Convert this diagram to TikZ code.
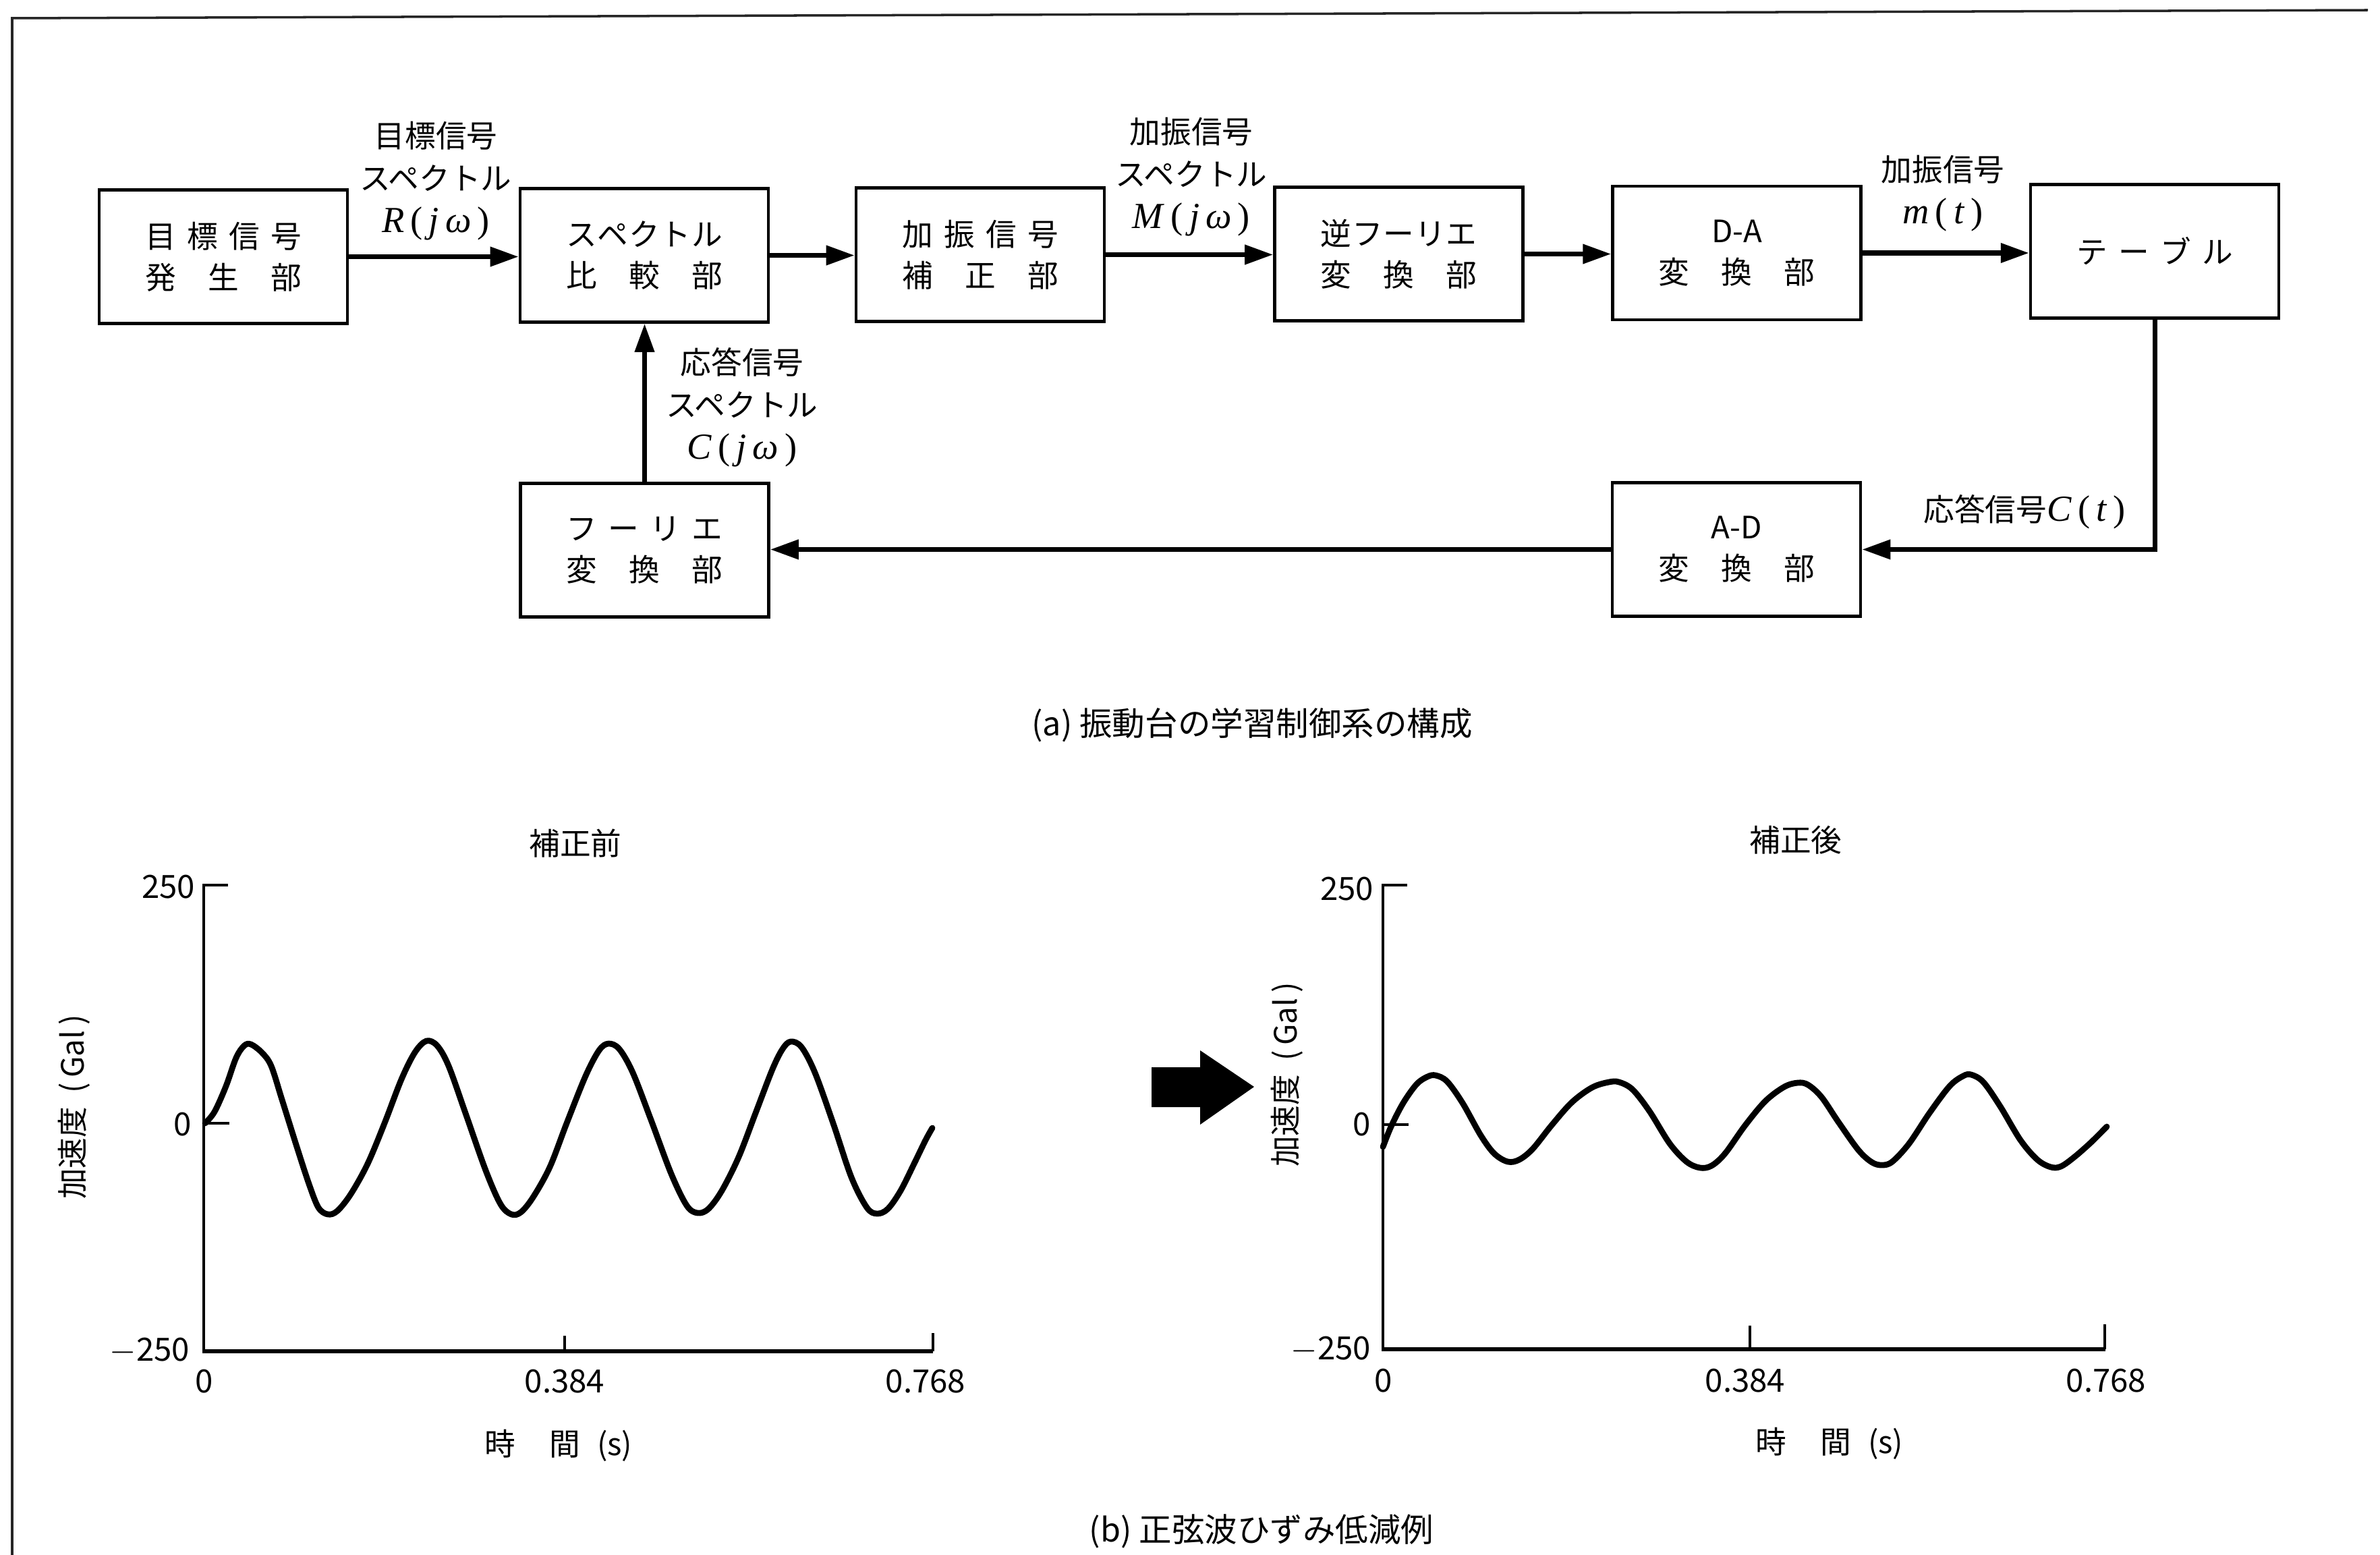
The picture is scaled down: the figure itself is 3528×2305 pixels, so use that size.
\documentclass[tikz,border=0pt]{standalone}
\usepackage{fontspec}
\setmainfont{Noto Sans CJK JP}
\newfontfamily\lserif{Liberation Serif}
\usetikzlibrary{arrows.meta}
\newcommand\spreadtxt[1]{\hbox to 23.2mm{#1}}
\newcommand\sigf[2]{{\fontsize{15.5pt}{17.9pt}\lserif{\itshape #1\/}\,(\,{\itshape #2\/}\,)}}
\begin{document}
\begin{tikzpicture}[x=0.1mm,y=-0.1mm,
  blk/.style={draw, line width=1.3pt, minimum width=36.8mm, minimum height=19.8mm, inner sep=0pt, align=center, font=\fontsize{13pt}{17.3pt}\selectfont},
  lbl/.style={align=center, inner sep=0pt, font=\fontsize{13pt}{17.9pt}\selectfont},
  flow/.style={line width=2pt, -{Triangle[length=4.2mm,width=2.8mm]}},
  axthin/.style={line width=0.9pt},
  axthick/.style={line width=1.8pt},
  wave/.style={line width=2.5pt, line join=round, line cap=round},
  num/.style={inner sep=0pt, font=\fontsize{13.5pt}{15pt}\selectfont}]
\useasboundingbox (0,0) rectangle (3528,2305);
\fill[white] (0,0) rectangle (3528,2305);
% frame
\draw[line width=1pt, black!85] (18,2305) -- (18,27) -- (3510,15);

% ---------- (a) block diagram ----------
\node[blk] (b1) at (331,380.5) {\spreadtxt{目\hfil 標\hfil 信\hfil 号}\\\spreadtxt{発\hfil 生\hfil 部}};
\node[blk] (b2) at (955,378.5) {\spreadtxt{ス\hfil ペ\hfil ク\hfil ト\hfil ル}\\\spreadtxt{比\hfil 較\hfil 部}};
\node[blk] (b3) at (1453,377.5) {\spreadtxt{加\hfil 振\hfil 信\hfil 号}\\\spreadtxt{補\hfil 正\hfil 部}};
\node[blk] (b4) at (2073.5,376.5) {\spreadtxt{逆\hfil フ\hfil ー\hfil リ\hfil エ}\\\spreadtxt{変\hfil 換\hfil 部}};
\node[blk] (b5) at (2574.5,375) {D-A\\\spreadtxt{変\hfil 換\hfil 部}};
\node[blk] (b6) at (3194,372.5) {\spreadtxt{テ\hfil ー\hfil ブ\hfil ル}};
\node[blk] (b7) at (955.5,815.5) {\spreadtxt{フ\hfil ー\hfil リ\hfil エ}\\\spreadtxt{変\hfil 換\hfil 部}};
\node[blk] (b8) at (2574,814.5) {A-D\\\spreadtxt{変\hfil 換\hfil 部}};

\draw[flow] (b1.east) -- (b1.east -| b2.west);
\draw[flow] (b2.east) -- (b2.east -| b3.west);
\draw[flow] (b3.east) -- (b3.east -| b4.west);
\draw[flow] (b4.east) -- (b4.east -| b5.west);
\draw[flow] (b5.east) -- (b5.east -| b6.west);
\draw[flow] (b6.south) |- (b8.east);
\draw[flow] (b8.west) -- (b8.west -| b7.east);
\draw[flow] (b7.north) -- (b7.north |- b2.south);

\node[lbl] (l1) at (646,268) {目標信号\\スペクトル\\\sigf{R}{j\,ω}};
\node[lbl] (l2) at (1766,262) {加振信号\\スペクトル\\\sigf{M}{j\,ω}};
\node[lbl] (l3) at (2880,287) {加振信号\\\sigf{m}{t}};
\node[lbl] (l4) at (1100,604) {応答信号\\スペクトル\\\sigf{C}{j\,ω}};
\node[lbl] (l5) at (3001,759) {応答信号\sigf{C}{t}};

\node[lbl, font=\fontsize{13.8pt}{17pt}\selectfont] (capA) at (1856,1075) {(a)\ 振動台の学習制御系の構成};

% ---------- (b) left graph ----------
\node[lbl] (t1) at (853,1250) {補正前};
\draw[axthin] (338,1312) -- (302,1312) -- (302,2003);
\draw[axthin] (302,1665) -- (340,1665);
\draw[axthick] (300,2003) -- (1383,2003);
\draw[axthin] (837,2003) -- (837,1980);
\draw[axthin] (1383,2003) -- (1383,1976);
\node[num, anchor=east] (ya1) at (290,1315) {250};
\node[num, anchor=east] (yb1) at (285,1667) {0};
\node[num, anchor=east] (yc1) at (282,2002) {\(-\)250};
\node[num] (xa1) at (303,2048) {0};
\node[num] (xb1) at (837,2048) {0.384};
\node[num] (xc1) at (1372,2048) {0.768};
\node[lbl] (xl1) at (828,2143) {時\hspace{5mm}間\hspace{2.5mm}(s)};
\node[lbl, rotate=90] (yl1) at (110,1641) {加速度\hspace{2mm}(\,Gal\,)};
\draw[wave] plot[smooth, tension=0.55] coordinates {
(304,1665) (318,1648) (335,1610) (350,1568) (362,1550) (372,1548) (388,1560) (402,1580) (418,1630) (440,1700) (458,1755) (472,1790) (486,1800) (500,1795) (520,1770) (545,1725) (570,1665) (595,1600) (615,1560) (632,1543) (648,1550) (665,1580) (690,1650) (720,1735) (742,1785) (758,1800) (772,1797) (790,1775) (815,1730) (840,1665) (868,1595) (888,1557) (902,1547) (918,1555) (938,1590) (965,1660) (995,1740) (1018,1787) (1034,1798) (1050,1792) (1070,1765) (1095,1715) (1120,1650) (1145,1585) (1160,1555) (1172,1544) (1188,1552) (1208,1590) (1235,1665) (1262,1745) (1285,1790) (1300,1799) (1316,1792) (1335,1765) (1355,1725) (1372,1690) (1382,1672)};

% big arrow
\fill (1707,1582) -- (1779,1582) -- (1779,1557) -- (1859,1611) -- (1779,1667) -- (1779,1641) -- (1707,1641) -- cycle;

% ---------- (b) right graph ----------
\node[lbl] (t2) at (2662,1245) {補正後};
\draw[axthin] (2086,1312) -- (2050,1312) -- (2050,2000);
\draw[axthin] (2050,1667) -- (2088,1667);
\draw[axthick] (2048,2000) -- (3121,2000);
\draw[axthin] (2594,2000) -- (2594,1965);
\draw[axthin] (3120,2000) -- (3120,1963);
\node[num, anchor=east] (ya2) at (2037,1318) {250};
\node[num, anchor=east] (yb2) at (2033,1667) {0};
\node[num, anchor=east] (yc2) at (2033,2000) {\(-\)250};
\node[num] (xa2) at (2051,2047) {0};
\node[num] (xb2) at (2587,2047) {0.384};
\node[num] (xc2) at (3122,2047) {0.768};
\node[lbl] (xl2) at (2712,2140) {時\hspace{5mm}間\hspace{2.5mm}(s)};
\node[lbl, rotate=90] (yl2) at (1908,1593) {加速度\hspace{2mm}(\,Gal\,)};
\draw[wave] plot[smooth, tension=0.55] coordinates {
(2050,1700) (2062,1670) (2080,1635) (2100,1607) (2116,1596) (2128,1594) (2145,1603) (2168,1635) (2195,1683) (2215,1710) (2235,1722) (2252,1719) (2272,1703) (2300,1668) (2330,1634) (2360,1612) (2385,1604) (2400,1604) (2420,1615) (2445,1647) (2475,1695) (2500,1722) (2520,1731) (2537,1728) (2557,1710) (2587,1668) (2617,1632) (2645,1611) (2665,1605) (2680,1608) (2700,1626) (2725,1663) (2755,1705) (2775,1723) (2790,1727) (2805,1722) (2830,1695) (2860,1650) (2890,1610) (2910,1595) (2922,1593) (2940,1604) (2965,1640) (2995,1690) (3020,1719) (3040,1730) (3055,1729) (3075,1715) (3100,1693) (3123,1670)};

\node[lbl, font=\fontsize{13.8pt}{17pt}\selectfont] (capB) at (1870,2270) {(b)\ 正弦波ひずみ低減例};
\end{tikzpicture}
\end{document}
